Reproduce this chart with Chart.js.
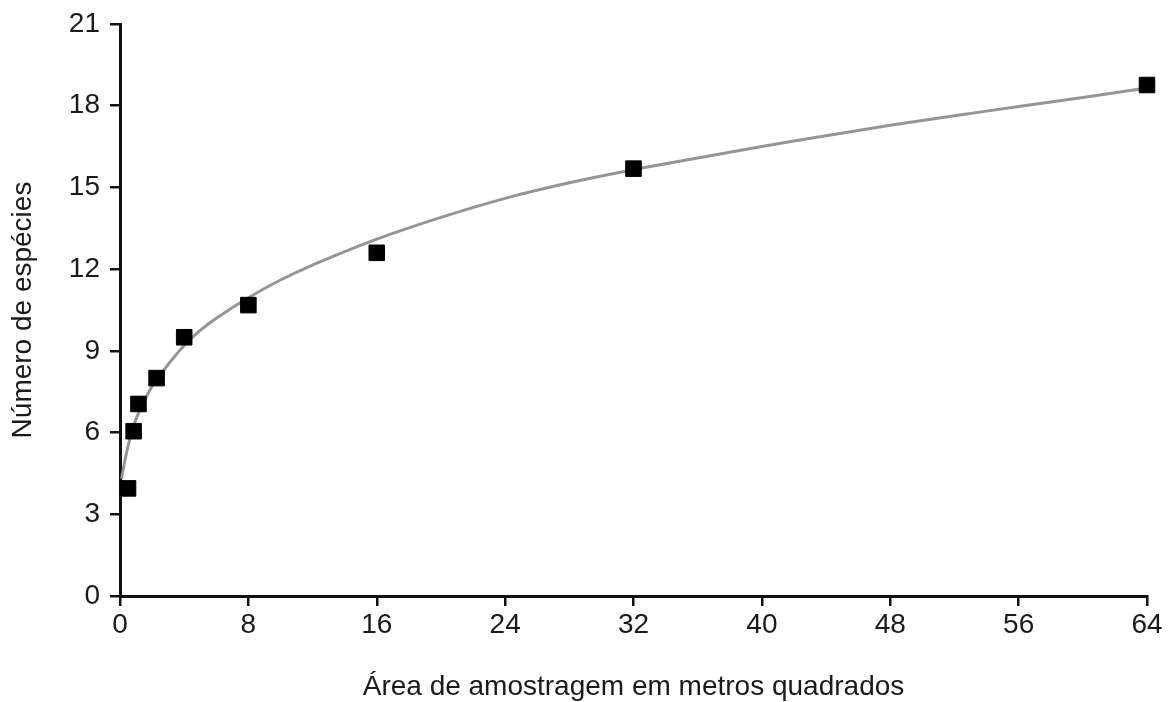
<!DOCTYPE html>
<html>
<head>
<meta charset="utf-8">
<script src="https://cdn.jsdelivr.net/npm/chart.js@4/dist/chart.umd.min.js"></script>
<style>
  html, body { margin: 0; padding: 0; background: #ffffff; }
  #wrap { width: 1172px; height: 702px; position: relative; }
</style>
</head>
<body>
<div id="wrap"><canvas id="c" width="1172" height="702"></canvas></div>
<script>
// Observed samples: sampling area (m²) and number of species
const areaM2   = [0.5, 0.85, 1.15, 2.28, 4, 8, 16, 32, 64];
const especies = [3.95, 6.05, 7.05, 8.0, 9.5, 10.68, 12.6, 15.69, 18.76];

// Fitted curve
const curveX = [0.1, 0.25, 0.5, 0.75, 1, 1.5, 2, 2.5, 3, 4, 5, 6, 8, 10, 12, 16, 20, 24, 28, 32, 36, 40, 44, 48, 52, 56, 60, 64];
const curveY = [4.3, 4.8, 5.5, 6.05, 6.5, 7.15, 7.7, 8.1, 8.5, 9.2, 9.75, 10.2, 10.95, 11.6, 12.15, 13.1, 13.9, 14.6, 15.17, 15.65, 16.08, 16.5, 16.9, 17.28, 17.63, 17.97, 18.3, 18.65];

// Axis ticks
const xTicks = [0, 8, 16, 24, 32, 40, 48, 56, 64];
const yTicks = [0, 3, 6, 9, 12, 15, 18, 21];

const xTitle = 'Área de amostragem em metros quadrados';
const yTitle = 'Número de espécies';

const FONT = "'Liberation Sans', Arial, Helvetica, sans-serif";
const TXT = '#1a1a1a';

const pts = areaM2.map((x, i) => ({ x: x, y: especies[i] }));
const curve = curveX.map((x, i) => ({ x: x, y: curveY[i] }));

new Chart(document.getElementById('c'), {
  type: 'scatter',
  data: {
    datasets: [
      {
        label: 'Amostras',
        data: pts,
        pointStyle: 'rect',
        pointRadius: 11,
        pointBorderWidth: 1,
        backgroundColor: '#000000',
        borderColor: '#000000',
        showLine: false,
        clip: false
      },
      {
        label: 'Curva',
        data: curve,
        showLine: true,
        pointRadius: 0,
        borderColor: '#959595',
        borderWidth: 3,
        tension: 0.4,
        fill: false,
        clip: false
      }
    ]
  },
  options: {
    responsive: false,
    animation: false,
    devicePixelRatio: 1,
    layout: { padding: { top: 22, right: 25, left: 0, bottom: 0 } },
    plugins: {
      legend: { display: false },
      tooltip: { enabled: false }
    },
    scales: {
      x: {
        type: 'linear',
        min: 0,
        max: 64,
        afterBuildTicks: s => { s.ticks = xTicks.map(v => ({ value: v })); },
        afterFit: s => { s.height = 106; },
        border: { display: true, color: '#111111', width: 3 },
        grid: { display: true, drawOnChartArea: false, drawTicks: true, tickLength: 10, color: '#111111', lineWidth: 2.5 },
        ticks: { color: TXT, font: { family: FONT, size: 28, lineHeight: 1 }, padding: 5, maxRotation: 0, autoSkip: false },
        title: { display: true, text: xTitle, color: TXT, font: { family: FONT, size: 28, lineHeight: 1 }, padding: { top: 0, bottom: 1 } }
      },
      y: {
        type: 'linear',
        min: 0,
        max: 21,
        afterBuildTicks: s => { s.ticks = yTicks.map(v => ({ value: v })); },
        afterFit: s => { s.width = 120; },
        border: { display: true, color: '#111111', width: 3 },
        grid: { display: true, drawOnChartArea: false, drawTicks: true, tickLength: 10, color: '#111111', lineWidth: 2.5 },
        ticks: { color: TXT, font: { family: FONT, size: 28, lineHeight: 1 }, padding: 10, autoSkip: false },
        title: { display: true, text: yTitle, color: TXT, font: { family: FONT, size: 28, lineHeight: 1 }, padding: { top: 9, bottom: 0 } }
      }
    }
  }
});
</script>
</body>
</html>
